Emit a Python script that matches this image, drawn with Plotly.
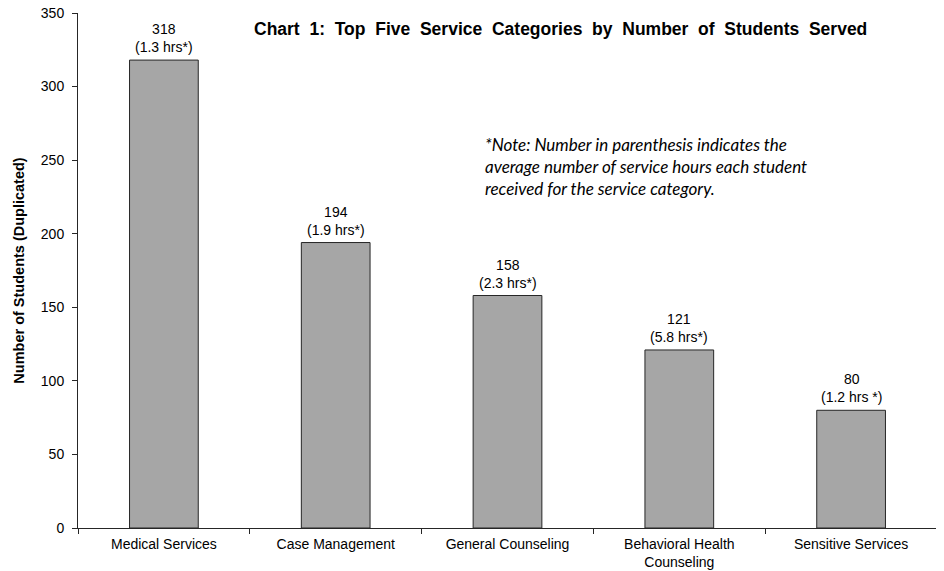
import plotly.graph_objects as go

categories = ["Medical Services", "Case Management", "General Counseling",
              "Behavioral Health<br>Counseling", "Sensitive Services"]
students = [318, 194, 158, 121, 80]
hours_labels = ["(1.3 hrs*)", "(1.9 hrs*)", "(2.3 hrs*)", "(5.8 hrs*)", "(1.2 hrs *)"]
y_ticks = [0, 50, 100, 150, 200, 250, 300, 350]

title_words = ["Chart", "1:", "Top", "Five", "Service", "Categories", "by",
               "Number", "of", "Students", "Served"]
note_lines = ["*Note: Number in parenthesis indicates the",
              "average number of service hours each student",
              "received for the service category."]

fig = go.Figure()
fig.add_trace(go.Bar(
    x=categories, y=students,
    marker=dict(color="#A6A6A6", line=dict(color="#262626", width=1)),
    hoverinfo="skip",
))

for c, v, h in zip(categories, students, hours_labels):
    fig.add_annotation(x=c, y=v, xref="x", yref="y", text=f"{v}<br>{h}",
                       showarrow=False, yanchor="bottom", yshift=3,
                       font=dict(family="Liberation Sans, Arial", size=14, color="#000"))

title_text = "\u00a0 ".join(title_words)
fig.add_annotation(xref="paper", yref="paper", x=0.2026, y=0.969, xanchor="left", yanchor="middle",
                   text=f"<b>{title_text}</b>", showarrow=False,
                   font=dict(family="Liberation Sans, Arial", size=17.5, color="#000"))

fig.add_annotation(xref="paper", yref="paper", x=0.4715, y=0.701, xanchor="left", yanchor="middle",
                   text="<i>" + "<br>".join(note_lines) + "</i>", showarrow=False, align="left",
                   font=dict(family="Lato, Carlito, Calibri", size=17, color="#000"))

fig.update_layout(
    width=944, height=571,
    margin=dict(l=70, r=15, t=5, b=51),
    paper_bgcolor="white", plot_bgcolor="white",
    bargap=0.6, showlegend=False,
    font=dict(family="Liberation Sans, Arial", size=14, color="#000"),
)
fig.update_xaxes(showline=True, linecolor="#262626", linewidth=1,
                 ticks="outside", ticklen=5, tickcolor="#262626", tickson="boundaries",
                 showgrid=False, automargin=False, ticklabelstandoff=3,
                 ticklabeloverflow="allow",
                 tickfont=dict(size=14, color="#000"))
fig.update_yaxes(range=[0, 350], tickvals=y_ticks, showline=True, linecolor="#262626", linewidth=1,
                 ticks="outside", ticklen=5, tickcolor="#262626",
                 showgrid=False, zeroline=False, automargin=False, ticklabelstandoff=5,
                 ticklabeloverflow="allow",
                 tickfont=dict(size=14, color="#000"),
                 title=dict(text="<b>Number of Students (Duplicated)</b>", standoff=12,
                            font=dict(size=14.5, color="#000")))

fig.write_html("out.html")
